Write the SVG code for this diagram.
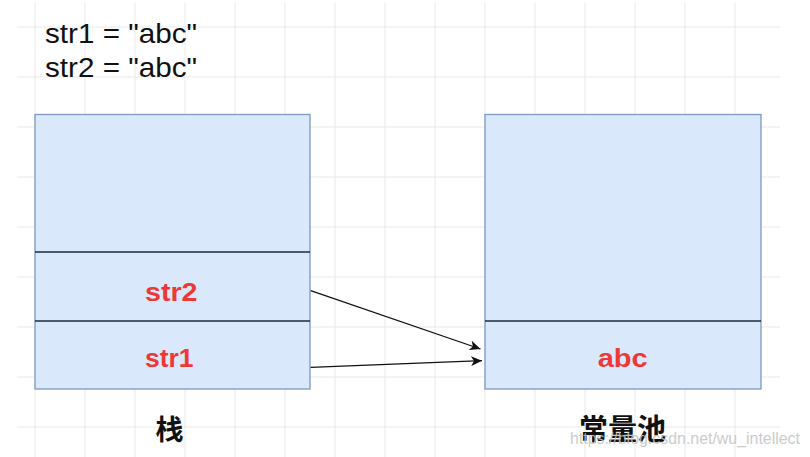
<svg xmlns="http://www.w3.org/2000/svg" width="810" height="457" viewBox="0 0 810 457">
  <style>
    .grid line { stroke: #e9e9e9; stroke-width: 1; }
    .box { fill: #dae8fc; stroke: #7d99c4; stroke-width: 1.3; }
    .div { stroke: #1f2a3a; stroke-width: 1.3; }
    .code { font-family: "Liberation Sans", Arial, sans-serif; font-size: 27.5px; fill: #111; }
    .lbl { font-family: "Liberation Sans", Arial, sans-serif; font-size: 25.5px; font-weight: bold; fill: #ee3838; }
    .cap { font-family: "Liberation Sans", "Noto Sans CJK SC", sans-serif; font-weight: bold; fill: #111; text-anchor: middle; }
    .wm { font-family: "Liberation Sans", Arial, sans-serif; font-size: 17px; fill: #c4c4c4; opacity: 0.85; }
    .conn { stroke: #111; stroke-width: 1.3; fill: none; marker-end: url(#arrow); }
  </style>
  <defs>
    <marker id="arrow" markerUnits="userSpaceOnUse" markerWidth="12" markerHeight="10" refX="11" refY="5" orient="auto">
      <path d="M0,0 L11,5 L0,10 L3,5 Z" fill="#111"/>
    </marker>
  </defs>
  <rect width="810" height="457" fill="#ffffff"/>
  <g class="grid">
    <line x1="35" y1="3" x2="35" y2="457"/>
    <line x1="85" y1="3" x2="85" y2="457"/>
    <line x1="135" y1="3" x2="135" y2="457"/>
    <line x1="185" y1="3" x2="185" y2="457"/>
    <line x1="235" y1="3" x2="235" y2="457"/>
    <line x1="285" y1="3" x2="285" y2="457"/>
    <line x1="335" y1="3" x2="335" y2="457"/>
    <line x1="385" y1="3" x2="385" y2="457"/>
    <line x1="435" y1="3" x2="435" y2="457"/>
    <line x1="485" y1="3" x2="485" y2="457"/>
    <line x1="535" y1="3" x2="535" y2="457"/>
    <line x1="585" y1="3" x2="585" y2="457"/>
    <line x1="635" y1="3" x2="635" y2="457"/>
    <line x1="685" y1="3" x2="685" y2="457"/>
    <line x1="735" y1="3" x2="735" y2="457"/>
    <line x1="17" y1="27" x2="780" y2="27"/>
    <line x1="17" y1="77" x2="780" y2="77"/>
    <line x1="17" y1="127" x2="780" y2="127"/>
    <line x1="17" y1="177" x2="780" y2="177"/>
    <line x1="17" y1="227" x2="780" y2="227"/>
    <line x1="17" y1="277" x2="780" y2="277"/>
    <line x1="17" y1="327" x2="780" y2="327"/>
    <line x1="17" y1="377" x2="780" y2="377"/>
    <line x1="17" y1="427" x2="780" y2="427"/>
  </g>
  <g id="code">
    <text class="code" x="45" y="43" textLength="152" lengthAdjust="spacingAndGlyphs">str1 = "abc"</text>
    <text class="code" x="45" y="77" textLength="152" lengthAdjust="spacingAndGlyphs">str2 = "abc"</text>
  </g>
  <g id="stack">
    <rect class="box" x="35" y="114.5" width="275" height="274.5"/>
    <line class="div" x1="35" y1="252" x2="310" y2="252"/>
    <line class="div" x1="35" y1="321" x2="310" y2="321"/>
    <text class="lbl" x="145" y="300.5" textLength="52.5" lengthAdjust="spacingAndGlyphs">str2</text>
    <text class="lbl" x="145" y="366.5" textLength="48.5" lengthAdjust="spacingAndGlyphs">str1</text>
    <text class="cap" x="169.5" y="440" font-size="28">栈</text>
  </g>
  <g id="pool">
    <rect class="box" x="485" y="114.5" width="276" height="274.5"/>
    <line class="div" x1="485" y1="321" x2="761" y2="321"/>
    <text class="lbl" x="597.7" y="366.5" textLength="50" lengthAdjust="spacingAndGlyphs">abc</text>
    <text class="cap" x="622.5" y="439.5" font-size="29">常量池</text>
  </g>
  <g id="connectors">
    <line class="conn" x1="310.7" y1="290.7" x2="480.5" y2="349"/>
    <line class="conn" x1="310.7" y1="367.3" x2="482" y2="360.7"/>
  </g>
  <text class="wm" x="570" y="444" textLength="230" lengthAdjust="spacingAndGlyphs">https://blog.csdn.net/wu_intellect</text>
</svg>
